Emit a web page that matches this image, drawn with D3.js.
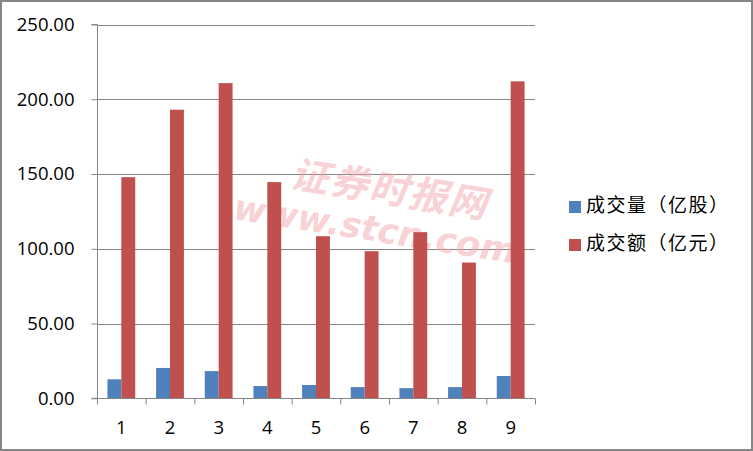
<!DOCTYPE html>
<html><head><meta charset="utf-8">
<script src="https://cdn.jsdelivr.net/npm/d3@7/dist/d3.min.js"></script>
<style>body{margin:0;background:#fff}svg{display:block}</style>
</head><body>
<script>
const categories = ["1","2","3","4","5","6","7","8","9"];
const volume = [12.7, 20.3, 18.2, 8.2, 8.9, 7.5, 6.8, 7.5, 14.9];
const amount = [147.9, 193.0, 210.8, 144.6, 108.4, 98.4, 111.1, 90.8, 212.0];
const seriesNames = ["成交量（亿股）", "成交额（亿元）"];
const colors = ["#4f81bd", "#c0504d"];
const yTicks = [0, 50, 100, 150, 200, 250];

(function(){
const W = 753, H = 451;
const svg = d3.select("body").append("svg").attr("width", W).attr("height", H);
svg.append("rect").attr("x",1).attr("y",1).attr("width",W-2).attr("height",H-2)
  .attr("fill","#fff").attr("stroke","#868686").attr("stroke-width",2);

const pLeft = 97, pRight = 535, pTop = 24.5, pBottom = 398.3;
const x = d3.scaleBand().domain(categories).range([pLeft, pRight]).paddingInner(0).paddingOuter(0);
const y = d3.scaleLinear().domain([0, 250]).range([pBottom, pTop]);
const bw = x.bandwidth() / 3.5;

// gridlines
svg.append("g").selectAll("line").data(yTicks.filter(d=>d>0)).join("line")
  .attr("x1", pLeft).attr("x2", pRight).attr("y1", d=>Math.round(y(d))+0.5).attr("y2", d=>Math.round(y(d))+0.5)
  .attr("stroke","#868686").attr("stroke-width",1);

// watermark
const wm = svg.append("g").attr("transform","translate(382,212) rotate(9)").attr("fill","#f2a6ad").attr("opacity",0.5)
  .attr("font-family","'Noto Sans CJK SC', sans-serif").attr("font-style","italic").attr("text-anchor","middle").attr("font-weight","bold");
wm.append("text").attr("x",4).attr("y",-10).attr("font-size",38).attr("letter-spacing",2).text("证券时报网");
wm.append("text").attr("x",-4).attr("y",30).attr("font-size",35).attr("font-family","'DejaVu Sans', sans-serif").text("www.stcn.com");

// bars
const g = svg.append("g");
[volume, amount].forEach((arr, s) => {
  g.append("g").selectAll("rect").data(arr).join("rect")
    .attr("x", (d,i)=> x(categories[i]) + x.bandwidth()/2 - bw + s*bw)
    .attr("width", bw)
    .attr("y", d=>y(d)).attr("height", d=>pBottom - y(d))
    .attr("fill", colors[s]);
});

// axes
const yAxis = d3.axisLeft(y).tickValues(yTicks).tickFormat(d3.format(".2f")).tickSize(6).tickPadding(17);
const ya = svg.append("g").attr("transform",`translate(${pLeft+0.5},0)`).call(yAxis);
ya.select(".domain").attr("stroke","#868686").attr("d",`M-6,${pTop}H0V${pBottom}H-6`);
ya.selectAll(".tick line").attr("stroke","#868686");
ya.selectAll("text").attr("font-size",18.5).attr("font-family","'Open Sans', 'Noto Sans', sans-serif").attr("fill","#000");

const xAxis = d3.axisBottom(d3.scaleLinear().domain([0,9]).range([pLeft,pRight])).tickValues(d3.range(10)).tickSize(6).tickFormat("");
const xa = svg.append("g").attr("transform",`translate(0,${Math.round(pBottom)+0.5})`).call(xAxis);
xa.select(".domain").attr("stroke","#868686").attr("d",`M${pLeft},0H${pRight}`);
xa.selectAll(".tick line").attr("stroke","#868686");
svg.append("g").selectAll("text").data(categories).join("text")
  .attr("x", d=>x(d)+x.bandwidth()/2).attr("y", 434)
  .attr("text-anchor","middle").attr("font-size",18.5)
  .attr("font-family","'Open Sans', 'Noto Sans', sans-serif").text(d=>d);

// legend
const lg = svg.append("g");
seriesNames.forEach((n,i)=>{
  const yy = 201 + i*38;
  lg.append("rect").attr("x",569).attr("y",yy).attr("width",12).attr("height",12).attr("fill",colors[i]);
  lg.append("text").attr("x",586).attr("y",yy+11).attr("font-size",19).attr("letter-spacing",1.5)
    .attr("font-family","'Noto Sans CJK SC', sans-serif").text(n);
});
})();
</script>
</body></html>
